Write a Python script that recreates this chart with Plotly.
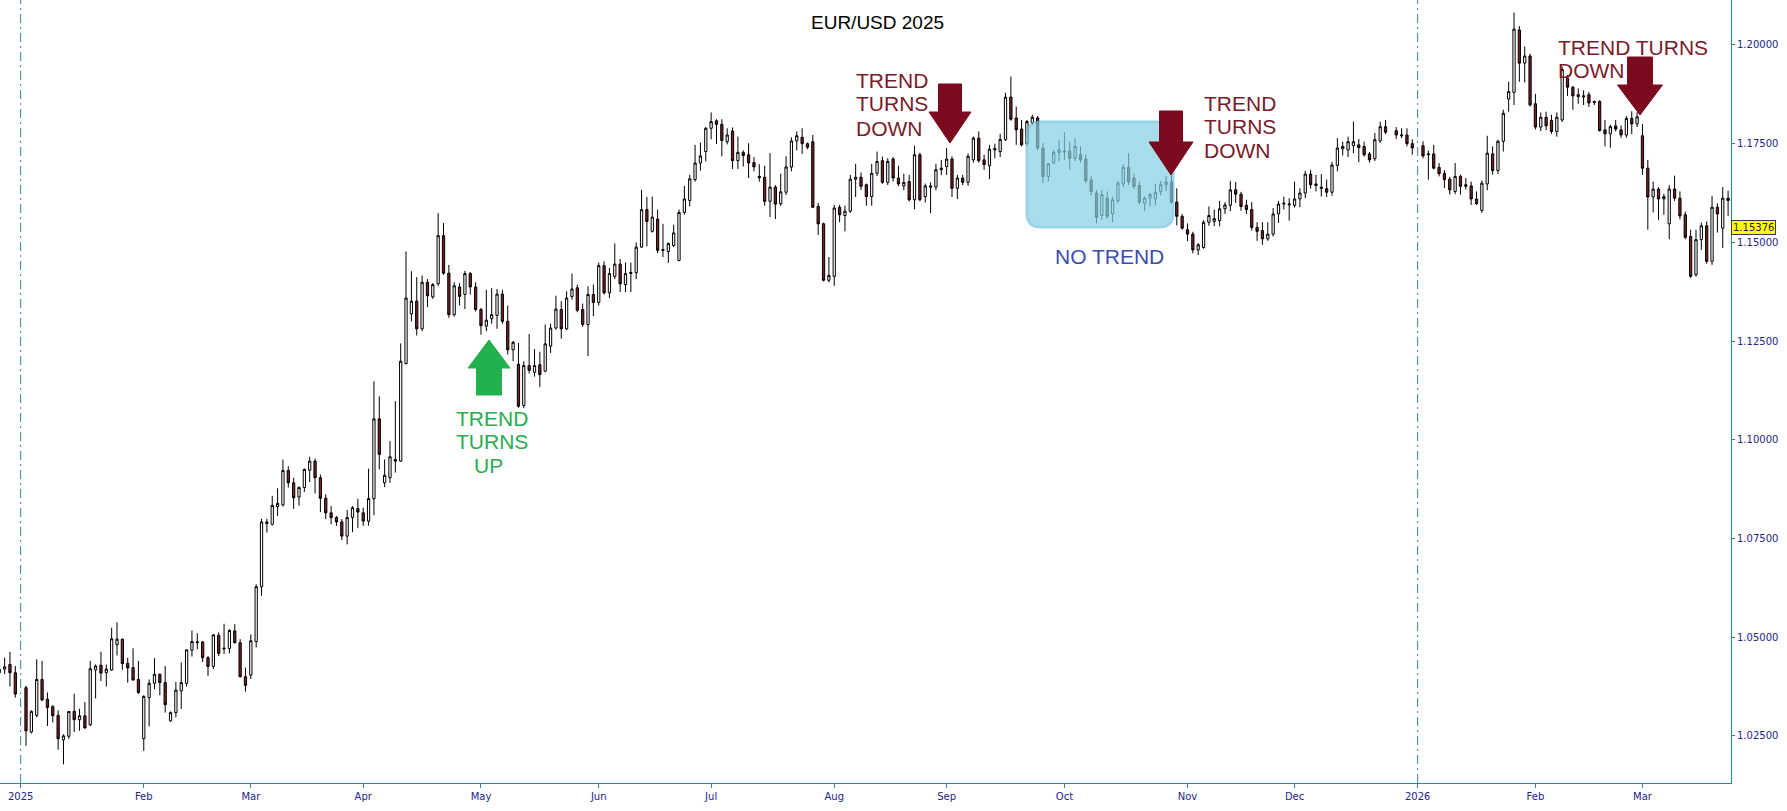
import pandas as pd
import plotly.graph_objects as go

# EUR/USD daily candles, late Dec 2024 -> Mar 2026
holidays = ["2025-01-01", "2025-12-25", "2026-01-01"]
first_day, last_day = "2024-12-26", "2026-03-24"

opens = [
    1.0410, 1.0419, 1.0431, 1.0410,
    1.0372, 1.0260, 1.0302, 1.0393, 1.0343, 1.0324, 1.0302, 1.0240, 1.0249, 1.0312, 1.0291, 1.0301, 1.0278, 1.0417, 1.0429, 1.0410, 1.0417, 1.0481, 1.0495, 1.0434, 1.0423, 1.0393,
    1.0243, 1.0347, 1.0383, 1.0406, 1.0385, 1.0288, 1.0309, 1.0364, 1.0383, 1.0467, 1.0486, 1.0488, 1.0448, 1.0426, 1.0505, 1.0470, 1.0471, 1.0516, 1.0486, 1.0400,
    1.0404, 1.0489, 1.0628, 1.0792, 1.0786, 1.0831, 1.0835, 1.0922, 1.0891, 1.0855, 1.0879, 1.0923, 1.0946, 1.0904, 1.0852, 1.0815, 1.0803, 1.0792, 1.0756, 1.0803, 1.0826,
    1.0815, 1.0794, 1.0851, 1.1053, 1.0891, 1.0904, 1.0950, 1.0946, 1.1193, 1.1319, 1.1351, 1.1281, 1.1399, 1.1362, 1.1395, 1.1517, 1.1422, 1.1317, 1.1387, 1.1368, 1.1421, 1.1387,
    1.1330, 1.1288, 1.1307, 1.1315, 1.1369, 1.1300, 1.1228, 1.1191, 1.1087, 1.1188, 1.1171, 1.1190, 1.1174, 1.1237, 1.1283, 1.1330, 1.1281, 1.1363, 1.1385, 1.1330, 1.1292, 1.1368,
    1.1348, 1.1441, 1.1372, 1.1414, 1.1445, 1.1393, 1.1421, 1.1423, 1.1488, 1.1583, 1.1528, 1.1559, 1.1482, 1.1477, 1.1492, 1.1454, 1.1576, 1.1606, 1.1659, 1.1701, 1.1730,
    1.1789, 1.1808, 1.1799, 1.1755, 1.1782, 1.1707, 1.1728, 1.1722, 1.1702, 1.1667, 1.1665, 1.1604, 1.1640, 1.1598, 1.1627, 1.1691, 1.1757, 1.1766, 1.1750, 1.1755, 1.1591, 1.1547, 1.1404,
    1.1414, 1.1589, 1.1568, 1.1579, 1.1660, 1.1665, 1.1646, 1.1616, 1.1675, 1.1707, 1.1652, 1.1711, 1.1663, 1.1643, 1.1654, 1.1608, 1.1722, 1.1616, 1.1643, 1.1640, 1.1684,
    1.1692, 1.1711, 1.1637, 1.1663, 1.1652, 1.1709, 1.1764, 1.1709, 1.1694, 1.1734, 1.1730, 1.1760, 1.1868, 1.1815, 1.1787, 1.1750, 1.1803, 1.1815, 1.1739, 1.1667, 1.1701, 1.1728,
    1.1729, 1.1731, 1.1713, 1.1722, 1.1711, 1.1658, 1.1625, 1.1568, 1.1612, 1.1572, 1.1605, 1.1648, 1.1690, 1.1663, 1.1644, 1.1599, 1.1612, 1.1610, 1.1629, 1.1646, 1.1653, 1.1602, 1.1566,
    1.1532, 1.1521, 1.1481, 1.1487, 1.1551, 1.1553, 1.1555, 1.1585, 1.1594, 1.1633, 1.1622, 1.1594, 1.1583, 1.1538, 1.1530, 1.1509, 1.1521, 1.1572, 1.1597, 1.1595,
    1.1594, 1.1610, 1.1625, 1.1673, 1.1648, 1.1640, 1.1636, 1.1627, 1.1695, 1.1737, 1.1734, 1.1745, 1.1747, 1.1743, 1.1724, 1.1712, 1.1757, 1.1793, 1.1783, 1.1770, 1.1772, 1.1750,
    1.1745, 1.1722, 1.1724, 1.1690, 1.1675, 1.1660, 1.1629, 1.1667, 1.1642, 1.1643, 1.1610, 1.1581, 1.1648, 1.1724, 1.1682, 1.1756, 1.1863, 1.1880, 1.2038, 1.1954, 1.1972,
    1.1851, 1.1792, 1.1817, 1.1809, 1.1781, 1.1810, 1.1916, 1.1893, 1.1869, 1.1868, 1.1874, 1.1854, 1.1857, 1.1785, 1.1775, 1.1795, 1.1785, 1.1772, 1.1814, 1.1800,
    1.1770, 1.1688, 1.1615, 1.1635, 1.1610, 1.1547, 1.1635, 1.1612, 1.1570, 1.1515, 1.1418, 1.1507, 1.1542, 1.1452, 1.1589, 1.1536, 1.1612,
]
highs = [
    1.0440, 1.0448, 1.0463, 1.0427,
    1.0377, 1.0315, 1.0444, 1.0440, 1.0360, 1.0328, 1.0315, 1.0254, 1.0313, 1.0357, 1.0319, 1.0336, 1.0440, 1.0431, 1.0463, 1.0431, 1.0524, 1.0538, 1.0496, 1.0448, 1.0472, 1.0440,
    1.0353, 1.0393, 1.0447, 1.0408, 1.0427, 1.0312, 1.0387, 1.0436, 1.0469, 1.0517, 1.0510, 1.0490, 1.0452, 1.0507, 1.0512, 1.0534, 1.0520, 1.0533, 1.0495, 1.0423,
    1.0507, 1.0634, 1.0800, 1.0800, 1.0858, 1.0877, 1.0950, 1.0933, 1.0904, 1.0882, 1.0927, 1.0957, 1.0952, 1.0912, 1.0862, 1.0832, 1.0807, 1.0799, 1.0822, 1.0832, 1.0851,
    1.0828, 1.0927, 1.1148, 1.1110, 1.0950, 1.0997, 1.1098, 1.1244, 1.1477, 1.1427, 1.1412, 1.1416, 1.1407, 1.1397, 1.1574, 1.1549, 1.1443, 1.1399, 1.1397, 1.1428, 1.1425, 1.1399,
    1.1334, 1.1380, 1.1384, 1.1382, 1.1380, 1.1340, 1.1250, 1.1245, 1.1199, 1.1268, 1.1230, 1.1223, 1.1292, 1.1294, 1.1365, 1.1351, 1.1376, 1.1421, 1.1393, 1.1345, 1.1389, 1.1393,
    1.1449, 1.1452, 1.1435, 1.1497, 1.1458, 1.1449, 1.1449, 1.1500, 1.1633, 1.1615, 1.1616, 1.1583, 1.1547, 1.1500, 1.1545, 1.1583, 1.1643, 1.1671, 1.1747, 1.1753, 1.1792,
    1.1829, 1.1812, 1.1812, 1.1789, 1.1791, 1.1768, 1.1733, 1.1751, 1.1716, 1.1698, 1.1694, 1.1726, 1.1645, 1.1674, 1.1718, 1.1766, 1.1781, 1.1789, 1.1753, 1.1772, 1.1600, 1.1550, 1.1463,
    1.1595, 1.1595, 1.1593, 1.1671, 1.1699, 1.1677, 1.1649, 1.1699, 1.1730, 1.1717, 1.1713, 1.1716, 1.1694, 1.1674, 1.1671, 1.1745, 1.1727, 1.1649, 1.1652, 1.1699, 1.1709,
    1.1739, 1.1718, 1.1671, 1.1671, 1.1725, 1.1768, 1.1781, 1.1722, 1.1747, 1.1750, 1.1775, 1.1879, 1.1920, 1.1844, 1.1810, 1.1810, 1.1823, 1.1820, 1.1751, 1.1701, 1.1734, 1.1760,
    1.1779, 1.1755, 1.1764, 1.1743, 1.1722, 1.1668, 1.1632, 1.1633, 1.1629, 1.1616, 1.1656, 1.1698, 1.1726, 1.1675, 1.1654, 1.1616, 1.1625, 1.1648, 1.1656, 1.1668, 1.1670, 1.1637, 1.1572,
    1.1548, 1.1527, 1.1498, 1.1556, 1.1591, 1.1583, 1.1605, 1.1602, 1.1656, 1.1653, 1.1628, 1.1608, 1.1602, 1.1551, 1.1551, 1.1551, 1.1587, 1.1605, 1.1616, 1.1612,
    1.1654, 1.1637, 1.1681, 1.1684, 1.1671, 1.1673, 1.1659, 1.1704, 1.1764, 1.1755, 1.1768, 1.1806, 1.1762, 1.1755, 1.1729, 1.1777, 1.1806, 1.1810, 1.1792, 1.1789, 1.1789, 1.1761,
    1.1756, 1.1733, 1.1747, 1.1701, 1.1683, 1.1666, 1.1701, 1.1672, 1.1663, 1.1654, 1.1629, 1.1657, 1.1770, 1.1743, 1.1760, 1.1836, 1.1907, 1.2082, 1.2048, 1.1996, 1.1978,
    1.1876, 1.1829, 1.1831, 1.1823, 1.1829, 1.1945, 1.1924, 1.1896, 1.1890, 1.1885, 1.1881, 1.1859, 1.1860, 1.1810, 1.1798, 1.1810, 1.1796, 1.1820, 1.1832, 1.1830,
    1.1800, 1.1709, 1.1654, 1.1640, 1.1623, 1.1645, 1.1669, 1.1629, 1.1578, 1.1532, 1.1532, 1.1550, 1.1553, 1.1618, 1.1599, 1.1640, 1.1631,
]
lows = [
    1.0395, 1.0406, 1.0375, 1.0347,
    1.0225, 1.0256, 1.0297, 1.0338, 1.0275, 1.0284, 1.0215, 1.0178, 1.0242, 1.0260, 1.0263, 1.0269, 1.0275, 1.0345, 1.0389, 1.0375, 1.0415, 1.0454, 1.0417, 1.0385, 1.0389, 1.0356,
    1.0212, 1.0274, 1.0368, 1.0353, 1.0309, 1.0286, 1.0297, 1.0318, 1.0375, 1.0451, 1.0469, 1.0437, 1.0402, 1.0419, 1.0452, 1.0457, 1.0459, 1.0484, 1.0398, 1.0362,
    1.0394, 1.0474, 1.0605, 1.0765, 1.0783, 1.0807, 1.0831, 1.0879, 1.0825, 1.0833, 1.0868, 1.0893, 1.0864, 1.0817, 1.0799, 1.0786, 1.0782, 1.0746, 1.0735, 1.0766, 1.0777,
    1.0782, 1.0782, 1.0809, 1.0925, 1.0880, 1.0891, 1.0917, 1.0944, 1.1191, 1.1300, 1.1264, 1.1275, 1.1336, 1.1357, 1.1390, 1.1418, 1.1309, 1.1312, 1.1340, 1.1331, 1.1368, 1.1325,
    1.1266, 1.1275, 1.1294, 1.1281, 1.1294, 1.1216, 1.1199, 1.1081, 1.1080, 1.1168, 1.1160, 1.1134, 1.1171, 1.1220, 1.1279, 1.1256, 1.1278, 1.1355, 1.1323, 1.1286, 1.1212, 1.1313,
    1.1340, 1.1368, 1.1359, 1.1407, 1.1374, 1.1374, 1.1374, 1.1407, 1.1486, 1.1490, 1.1525, 1.1473, 1.1463, 1.1448, 1.1488, 1.1452, 1.1570, 1.1591, 1.1654, 1.1682, 1.1705,
    1.1761, 1.1749, 1.1718, 1.1748, 1.1686, 1.1686, 1.1692, 1.1663, 1.1680, 1.1654, 1.1593, 1.1564, 1.1559, 1.1592, 1.1620, 1.1680, 1.1733, 1.1724, 1.1736, 1.1587, 1.1519, 1.1401, 1.1399,
    1.1390, 1.1551, 1.1528, 1.1575, 1.1615, 1.1633, 1.1593, 1.1593, 1.1668, 1.1648, 1.1645, 1.1654, 1.1642, 1.1632, 1.1604, 1.1584, 1.1604, 1.1601, 1.1574, 1.1632, 1.1670,
    1.1671, 1.1615, 1.1610, 1.1645, 1.1643, 1.1702, 1.1702, 1.1684, 1.1660, 1.1713, 1.1716, 1.1757, 1.1808, 1.1747, 1.1743, 1.1745, 1.1798, 1.1733, 1.1650, 1.1654, 1.1698, 1.1705,
    1.1709, 1.1684, 1.1706, 1.1702, 1.1650, 1.1618, 1.1548, 1.1557, 1.1560, 1.1551, 1.1600, 1.1640, 1.1645, 1.1635, 1.1596, 1.1579, 1.1591, 1.1594, 1.1619, 1.1630, 1.1598, 1.1543, 1.1532,
    1.1503, 1.1472, 1.1468, 1.1484, 1.1542, 1.1541, 1.1541, 1.1572, 1.1579, 1.1600, 1.1580, 1.1572, 1.1530, 1.1504, 1.1494, 1.1504, 1.1515, 1.1549, 1.1583, 1.1555,
    1.1588, 1.1589, 1.1612, 1.1636, 1.1629, 1.1616, 1.1615, 1.1618, 1.1680, 1.1720, 1.1716, 1.1726, 1.1703, 1.1717, 1.1702, 1.1706, 1.1752, 1.1774, 1.1762, 1.1764, 1.1743, 1.1722,
    1.1713, 1.1659, 1.1685, 1.1667, 1.1638, 1.1621, 1.1622, 1.1621, 1.1634, 1.1595, 1.1595, 1.1575, 1.1632, 1.1672, 1.1673, 1.1730, 1.1831, 1.1848, 1.1907, 1.1905, 1.1844,
    1.1786, 1.1782, 1.1784, 1.1775, 1.1768, 1.1805, 1.1871, 1.1836, 1.1851, 1.1848, 1.1843, 1.1848, 1.1781, 1.1743, 1.1740, 1.1781, 1.1765, 1.1765, 1.1774, 1.1792,
    1.1671, 1.1532, 1.1576, 1.1557, 1.1570, 1.1508, 1.1605, 1.1558, 1.1508, 1.1410, 1.1413, 1.1481, 1.1446, 1.1443, 1.1525, 1.1486, 1.1567,
]
closes = [
    1.0419, 1.0425, 1.0410, 1.0356,
    1.0263, 1.0312, 1.0393, 1.0341, 1.0322, 1.0301, 1.0243, 1.0250, 1.0312, 1.0291, 1.0301, 1.0270, 1.0420, 1.0427, 1.0409, 1.0419, 1.0496, 1.0495, 1.0433, 1.0422, 1.0392, 1.0360,
    1.0350, 1.0383, 1.0406, 1.0385, 1.0329, 1.0309, 1.0366, 1.0385, 1.0468, 1.0489, 1.0488, 1.0448, 1.0426, 1.0506, 1.0459, 1.0472, 1.0517, 1.0486, 1.0400, 1.0378,
    1.0491, 1.0628, 1.0792, 1.0788, 1.0834, 1.0839, 1.0922, 1.0891, 1.0853, 1.0879, 1.0925, 1.0946, 1.0904, 1.0852, 1.0815, 1.0803, 1.0792, 1.0756, 1.0803, 1.0828, 1.0817,
    1.0794, 1.0851, 1.1053, 1.0963, 1.0910, 1.0957, 1.0946, 1.1199, 1.1359, 1.1351, 1.1281, 1.1399, 1.1365, 1.1393, 1.1517, 1.1422, 1.1317, 1.1390, 1.1363, 1.1421, 1.1387, 1.1330,
    1.1289, 1.1303, 1.1317, 1.1369, 1.1300, 1.1228, 1.1247, 1.1085, 1.1188, 1.1176, 1.1188, 1.1165, 1.1243, 1.1283, 1.1331, 1.1281, 1.1359, 1.1382, 1.1328, 1.1292, 1.1368, 1.1348,
    1.1441, 1.1372, 1.1421, 1.1445, 1.1395, 1.1421, 1.1424, 1.1488, 1.1583, 1.1553, 1.1564, 1.1480, 1.1480, 1.1497, 1.1524, 1.1576, 1.1610, 1.1661, 1.1701, 1.1719, 1.1789,
    1.1806, 1.1799, 1.1758, 1.1772, 1.1707, 1.1728, 1.1720, 1.1701, 1.1691, 1.1664, 1.1604, 1.1640, 1.1597, 1.1628, 1.1691, 1.1757, 1.1770, 1.1750, 1.1741, 1.1589, 1.1547, 1.1404, 1.1416,
    1.1587, 1.1570, 1.1579, 1.1660, 1.1665, 1.1642, 1.1616, 1.1675, 1.1705, 1.1652, 1.1705, 1.1663, 1.1648, 1.1652, 1.1608, 1.1722, 1.1608, 1.1643, 1.1640, 1.1684, 1.1688,
    1.1711, 1.1637, 1.1663, 1.1652, 1.1718, 1.1764, 1.1707, 1.1697, 1.1736, 1.1738, 1.1761, 1.1868, 1.1812, 1.1785, 1.1747, 1.1806, 1.1817, 1.1739, 1.1667, 1.1699, 1.1728, 1.1734,
    1.1731, 1.1713, 1.1743, 1.1709, 1.1656, 1.1629, 1.1563, 1.1621, 1.1566, 1.1608, 1.1650, 1.1690, 1.1653, 1.1642, 1.1602, 1.1612, 1.1621, 1.1627, 1.1646, 1.1653, 1.1602, 1.1566, 1.1536,
    1.1521, 1.1481, 1.1494, 1.1551, 1.1568, 1.1560, 1.1585, 1.1595, 1.1633, 1.1622, 1.1591, 1.1583, 1.1538, 1.1528, 1.1509, 1.1521, 1.1572, 1.1597, 1.1599, 1.1597,
    1.1610, 1.1625, 1.1673, 1.1646, 1.1644, 1.1637, 1.1627, 1.1696, 1.1739, 1.1743, 1.1755, 1.1755, 1.1740, 1.1722, 1.1709, 1.1760, 1.1793, 1.1779, 1.1772, 1.1772, 1.1750, 1.1739,
    1.1719, 1.1724, 1.1688, 1.1674, 1.1659, 1.1633, 1.1667, 1.1642, 1.1646, 1.1610, 1.1598, 1.1650, 1.1726, 1.1682, 1.1756, 1.1827, 1.1882, 1.2040, 1.1954, 1.1972, 1.1848,
    1.1792, 1.1817, 1.1795, 1.1781, 1.1817, 1.1938, 1.1893, 1.1871, 1.1874, 1.1871, 1.1853, 1.1857, 1.1783, 1.1775, 1.1793, 1.1787, 1.1772, 1.1814, 1.1800, 1.1818,
    1.1688, 1.1615, 1.1635, 1.1610, 1.1616, 1.1635, 1.1612, 1.1567, 1.1513, 1.1414, 1.1507, 1.1542, 1.1452, 1.1589, 1.1572, 1.1612, 1.1606,
]
last_price = 1.15376

tick_dates = ["2025-01-01", "2025-02-03", "2025-03-03", "2025-04-01", "2025-05-01",
              "2025-06-02", "2025-07-01", "2025-08-01", "2025-09-01", "2025-10-01",
              "2025-11-03", "2025-12-01", "2026-01-01", "2026-02-02", "2026-03-02"]
tick_labels = ["2025", "Feb", "Mar", "Apr", "May", "Jun", "Jul", "Aug", "Sep", "Oct",
               "Nov", "Dec", "2026", "Feb", "Mar"]
price_ticks = [1.025, 1.05, 1.075, 1.10, 1.125, 1.15, 1.175, 1.20]
year_lines = ["2025-01-01", "2026-01-01"]

# trading days (weekends removed on the axis, holidays left as gaps)
days = pd.bdate_range(first_day, last_day)
days = days[~days.isin(pd.to_datetime(holidays))]
assert len(days) == len(opens) == len(highs) == len(lows) == len(closes), (len(days), len(opens), len(highs), len(lows), len(closes))
noon = pd.Timedelta(hours=12)
x = days + noon

TEAL = "#2e8a8e"
NAVY = "#24248c"
MAROON = "#7c0a1f"
MAROON_TXT = "#7a1a2c"
GREEN = "#22b14c"
GREEN_TXT = "#2aac50"
BLUE_TXT = "#3d4cad"

fig = go.Figure(go.Candlestick(
    x=x, open=opens, high=highs, low=lows, close=closes,
    increasing=dict(line=dict(color="black", width=1), fillcolor="white"),
    decreasing=dict(line=dict(color="black", width=1), fillcolor="#7d1f1f"),
    whiskerwidth=0, showlegend=False, hoverinfo="skip",
))

# plot area in pixels, used to place the drawn-on annotations
PW, PH = 1731, 783


def px(v):
    return v / PW


def py(v):
    return 1 - v / PH


def arrow_path(cx, start, neck, tip, shaft, head):
    pts = [(cx - shaft, start), (cx + shaft, start), (cx + shaft, neck), (cx + head, neck),
           (cx, tip), (cx - head, neck), (cx - shaft, neck)]
    return "M " + " L ".join(f"{px(a):.5f},{py(b):.5f}" for a, b in pts) + " Z"


def rounded_box(x0, y0, x1, y1, r):
    rx, ry = r / PW, r / PH
    L, R, T, B = px(x0), px(x1), py(y0), py(y1)
    return (f"M {L+rx},{T} L {R-rx},{T} Q {R},{T} {R},{T-ry} L {R},{B+ry} Q {R},{B} {R-rx},{B} "
            f"L {L+rx},{B} Q {L},{B} {L},{B+ry} L {L},{T-ry} Q {L},{T} {L+rx},{T} Z")


shapes = []
for d in year_lines:
    shapes.append(dict(type="line", xref="x", yref="paper", x0=pd.Timestamp(d) + noon,
                       x1=pd.Timestamp(d) + noon, y0=0, y1=1, layer="below",
                       line=dict(color=TEAL, width=1, dash="9px,4px,2px,4px")))

# "no trend" box
shapes.append(dict(type="path", xref="paper", yref="paper", layer="above", opacity=0.7,
                   path=rounded_box(1027, 122, 1173, 227, 14),
                   fillcolor="rgb(134,208,228)", line=dict(color="rgb(110,196,224)", width=3)))

# arrows
for cx, start, neck, tip, shaft, head, col in [
    (950, 84, 112, 143, 11.5, 21, MAROON),
    (1171, 111, 142, 175, 11.5, 22, MAROON),
    (1640, 57, 85, 115, 12.5, 22.5, MAROON),
    (489, 395, 368, 340, 12.5, 21, GREEN),
]:
    shapes.append(dict(type="path", xref="paper", yref="paper", layer="above",
                       path=arrow_path(cx, start, neck, tip, shaft, head),
                       fillcolor=col, line=dict(color=col, width=1)))

annotations = []


def label(text, xp, yp, color, size=21, anchor="left"):
    annotations.append(dict(text=text, xref="paper", yref="paper", x=px(xp), y=py(yp),
                            xanchor=anchor, yanchor="middle", showarrow=False,
                            font=dict(family="Liberation Sans, Arial, sans-serif", size=size, color=color)))


label("EUR/USD 2025", 877, 22, "black", size=19, anchor="center")
for t, yy in [("TREND", 81), ("TURNS", 104), ("DOWN", 128)]:
    label(t, 854, yy, MAROON_TXT)
for t, yy in [("TREND", 104), ("TURNS", 127), ("DOWN", 150)]:
    label(t, 1202, yy, MAROON_TXT)
label("TREND TURNS", 1556, 47, MAROON_TXT)
label("DOWN", 1556, 71, MAROON_TXT)
label("TREND", 454, 418, GREEN_TXT)
label("TURNS", 454, 441, GREEN_TXT)
label("UP", 472, 465, GREEN_TXT)
label("NO TREND", 1053, 257, BLUE_TXT)

# current price tag on the axis
annotations.append(dict(text=f"{last_price:.5f}", xref="paper", yref="y", x=1, y=last_price,
                        xanchor="left", yanchor="middle", showarrow=False,
                        bgcolor="#ffff00", bordercolor="#3a3a3a", borderwidth=1, borderpad=1,
                        font=dict(family="DejaVu Sans", size=10, color="#1b1b5e")))

fig.update_layout(
    width=1787, height=811,
    margin=dict(l=0, r=56, t=0, b=28),
    paper_bgcolor="white", plot_bgcolor="white",
    boxgap=0.4,
    shapes=shapes, annotations=annotations,
    showlegend=False,
)
fig.update_xaxes(
    type="date",
    rangebreaks=[dict(bounds=["sat", "mon"])],
    range=["2024-12-26 15:20", "2026-03-25 01:00"],
    rangeslider=dict(visible=False),
    tickvals=[pd.Timestamp(d) + noon for d in tick_dates], ticktext=tick_labels,
    ticks="outside", ticklen=4, tickcolor=TEAL,
    showgrid=False, zeroline=False,
    showline=True, linecolor=TEAL, linewidth=1,
    tickfont=dict(family="DejaVu Sans", size=10, color=NAVY),
)
fig.update_yaxes(
    side="right", range=[1.01307, 1.21139],
    tickvals=price_ticks, tickformat=".5f",
    ticks="outside", ticklen=3, tickcolor=TEAL,
    showgrid=False, zeroline=False,
    showline=True, linecolor=TEAL, linewidth=1,
    tickfont=dict(family="DejaVu Sans", size=10, color=NAVY),
)

fig.write_html("out.html", config={"displayModeBar": False},
               post_script="document.body.style.margin='0';document.body.style.overflow='hidden';")
